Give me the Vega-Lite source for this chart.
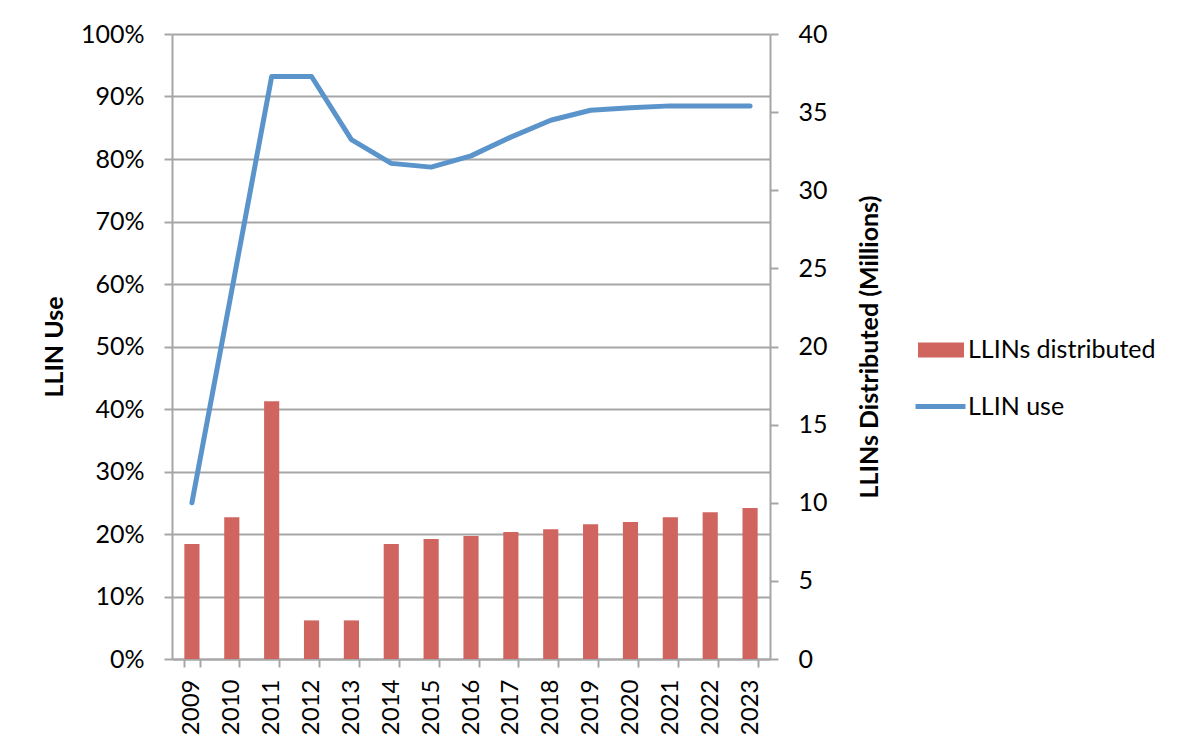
{
  "$schema": "https://vega.github.io/schema/vega-lite/v6.json",
  "autosize": {"type": "none"},
  "padding": {"left": 172, "top": 34, "right": 430, "bottom": 96},
  "width": 598,
  "height": 625,
  "background": "white",
  "config": {
    "font": "Lato",
    "view": {"stroke": null},
    "axis": {"labelFont": "Lato", "titleFont": "Lato", "labelColor": "black", "titleColor": "black", "labelFontSize": 25, "titleFontSize": 25, "titleFontWeight": "bold", "domainColor": "#A6A6A6", "tickColor": "#A6A6A6", "domainWidth": 2, "tickWidth": 2, "tickSize": 8},
    "legend": {"labelFont": "Lato", "labelFontSize": 25, "labelColor": "black", "labelLimit": 400}
  },
  "data": {"values": [
    {"year": "2009", "llins": 7.36, "use": 0.25},
    {"year": "2010", "llins": 9.07, "use": 0.59},
    {"year": "2011", "llins": 16.5, "use": 0.932},
    {"year": "2012", "llins": 2.47, "use": 0.932},
    {"year": "2013", "llins": 2.47, "use": 0.831},
    {"year": "2014", "llins": 7.36, "use": 0.793},
    {"year": "2015", "llins": 7.68, "use": 0.787},
    {"year": "2016", "llins": 7.87, "use": 0.805},
    {"year": "2017", "llins": 8.13, "use": 0.835},
    {"year": "2018", "llins": 8.3, "use": 0.862},
    {"year": "2019", "llins": 8.62, "use": 0.878},
    {"year": "2020", "llins": 8.77, "use": 0.882},
    {"year": "2021", "llins": 9.07, "use": 0.885},
    {"year": "2022", "llins": 9.39, "use": 0.885},
    {"year": "2023", "llins": 9.66, "use": 0.885}
  ]},
  "encoding": {
    "x": {"field": "year", "type": "ordinal", "scale": {"paddingInner": 0.62, "paddingOuter": 0.31},
      "axis": {"title": null, "labelAngle": -90, "labelAlign": "right", "labelBaseline": "middle", "labelFontSize": 24, "tickBand": "extent", "labelPadding": 12, "grid": false}}
  },
  "layer": [
    {
      "mark": {"type": "bar"},
      "encoding": {
        "y": {"field": "llins", "type": "quantitative", "scale": {"domain": [0, 40], "nice": false},
          "axis": {"orient": "right", "title": "LLINs Distributed (Millions)", "values": [0, 5, 10, 15, 20, 25, 30, 35, 40], "grid": false, "labelPadding": 20, "titleAngle": 270, "titlePadding": 55}},
        "fill": {"datum": "LLINs distributed", "scale": {"range": ["#D0655F"]},
          "legend": {"title": null, "orient": "none", "legendX": 746, "legendY": 293, "symbolType": "M-1,-0.33H1V0.33H-1Z", "symbolSize": 2116, "symbolStrokeWidth": 0, "labelOffset": 4}}
      }
    },
    {
      "mark": {"type": "line", "strokeWidth": 5, "strokeCap": "round", "strokeJoin": "round"},
      "encoding": {
        "y": {"field": "use", "type": "quantitative", "scale": {"domain": [0, 1], "nice": false},
          "axis": {"orient": "left", "title": "LLIN Use", "format": ".0%", "values": [0, 0.1, 0.2, 0.3, 0.4, 0.5, 0.6, 0.7, 0.8, 0.9, 1], "grid": true, "gridColor": "#A6A6A6", "gridWidth": 2, "labelPadding": 20, "titlePadding": 13}},
        "stroke": {"datum": "LLIN use", "scale": {"range": ["#5B94CB"]},
          "legend": {"title": null, "orient": "none", "legendX": 741, "legendY": 345, "symbolType": "stroke", "symbolSize": 2500, "symbolStrokeWidth": 5, "labelOffset": 0}}
      }
    }
  ],
  "resolve": {"scale": {"y": "independent", "fill": "independent", "stroke": "independent"}}
}
